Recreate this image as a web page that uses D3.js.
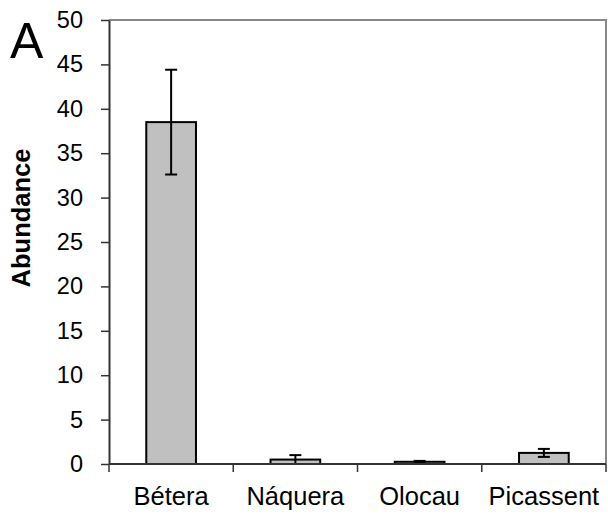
<!DOCTYPE html>
<html>
<head>
<meta charset="utf-8">
<script src="https://cdn.jsdelivr.net/npm/d3@7"></script>
<style>
  body { margin: 0; background: #fff; }
  text { font-family: Arial, "Liberation Sans", sans-serif; }
</style>
</head>
<body>
<div id="chart"></div>
<script>
// values
const sites = ["Bétera", "Náquera", "Olocau", "Picassent"];
const abundance = [38.5, 0.5, 0.25, 1.25];
const errors = [5.9, 0.5, 0.1, 0.45];
const yTicks = [0, 5, 10, 15, 20, 25, 30, 35, 40, 45, 50];

const margin = {top: 20, right: 2, bottom: 57, left: 109},
    width = 608 - margin.left - margin.right,
    height = 521 - margin.top - margin.bottom;

const x = d3.scaleBand().domain(sites).range([0, width]).paddingInner(0.6).paddingOuter(0.3);
const y = d3.scaleLinear().domain([0, 50]).range([height, 0]);

const svg = d3.select("#chart").append("svg")
    .attr("width", 608)
    .attr("height", 521)
  .append("g")
    .attr("transform", "translate(" + margin.left + "," + margin.top + ")");

// grey frame top + right
svg.append("path")
    .attr("d", "M0,0H" + width + "V" + height)
    .attr("fill", "none")
    .attr("stroke", "#888")
    .attr("stroke-width", 2);

// bars
svg.selectAll("rect.bar")
    .data(sites)
  .enter().append("rect")
    .attr("class", "bar")
    .attr("x", d => x(d))
    .attr("y", (d, i) => y(abundance[i]))
    .attr("width", x.bandwidth())
    .attr("height", (d, i) => y(0) - y(abundance[i]))
    .attr("fill", "#c0c0c0")
    .attr("stroke", "#000")
    .attr("stroke-width", 2);

// error bars
const eb = svg.selectAll("g.err")
    .data(sites)
  .enter().append("g")
    .attr("class", "err")
    .attr("transform", d => "translate(" + (x(d) + x.bandwidth() / 2) + ",0)");

eb.append("line")
    .attr("y1", (d, i) => y(abundance[i] - errors[i]))
    .attr("y2", (d, i) => y(abundance[i] + errors[i]))
    .attr("stroke", "#000").attr("stroke-width", 2);
eb.append("line")
    .attr("x1", -6).attr("x2", 6)
    .attr("y1", (d, i) => y(abundance[i] + errors[i]))
    .attr("y2", (d, i) => y(abundance[i] + errors[i]))
    .attr("stroke", "#000").attr("stroke-width", 2);
eb.append("line")
    .attr("x1", -6).attr("x2", 6)
    .attr("y1", (d, i) => y(abundance[i] - errors[i]))
    .attr("y2", (d, i) => y(abundance[i] - errors[i]))
    .attr("stroke", "#000").attr("stroke-width", 2);

// y axis
const yAxis = svg.append("g")
    .call(d3.axisLeft(y).tickValues(yTicks).tickSize(8).tickSizeOuter(0));
yAxis.select(".domain").attr("stroke", "#333").attr("stroke-width", 2);
yAxis.selectAll(".tick line").attr("stroke", "#333").attr("stroke-width", 1.5);
yAxis.selectAll("text")
    .attr("font-size", 23.5)
    .attr("font-family", "Arial, 'Liberation Sans', sans-serif")
    .attr("fill", "#000")
    .attr("dx", "-15px");

// x axis - ticks on category boundaries
const xAxis = svg.append("g")
    .attr("transform", "translate(0," + height + ")");
xAxis.append("line")
    .attr("x1", 0).attr("x2", width)
    .attr("stroke", "#333").attr("stroke-width", 2);
const step = width / sites.length;
xAxis.selectAll("line.tk")
    .data(d3.range(sites.length + 1))
  .enter().append("line")
    .attr("class", "tk")
    .attr("x1", d => d * step).attr("x2", d => d * step)
    .attr("y1", 0).attr("y2", 8)
    .attr("stroke", "#333").attr("stroke-width", 1.5);
xAxis.selectAll("text")
    .data(sites)
  .enter().append("text")
    .attr("x", d => x(d) + x.bandwidth() / 2)
    .attr("y", 41)
    .attr("text-anchor", "middle")
    .attr("font-size", 25.5)
    .text(d => d);

// y label
svg.append("text")
    .attr("transform", "translate(" + (-79) + "," + (height / 2 - 24) + ") rotate(-90)")
    .attr("text-anchor", "middle")
    .attr("font-size", 25.5)
    .attr("font-weight", "bold")
    .text("Abundance");

// panel letter
svg.append("text")
    .attr("x", -99)
    .attr("y", 38)
    .attr("font-size", 50)
    .text("A");
</script>
</body>
</html>
